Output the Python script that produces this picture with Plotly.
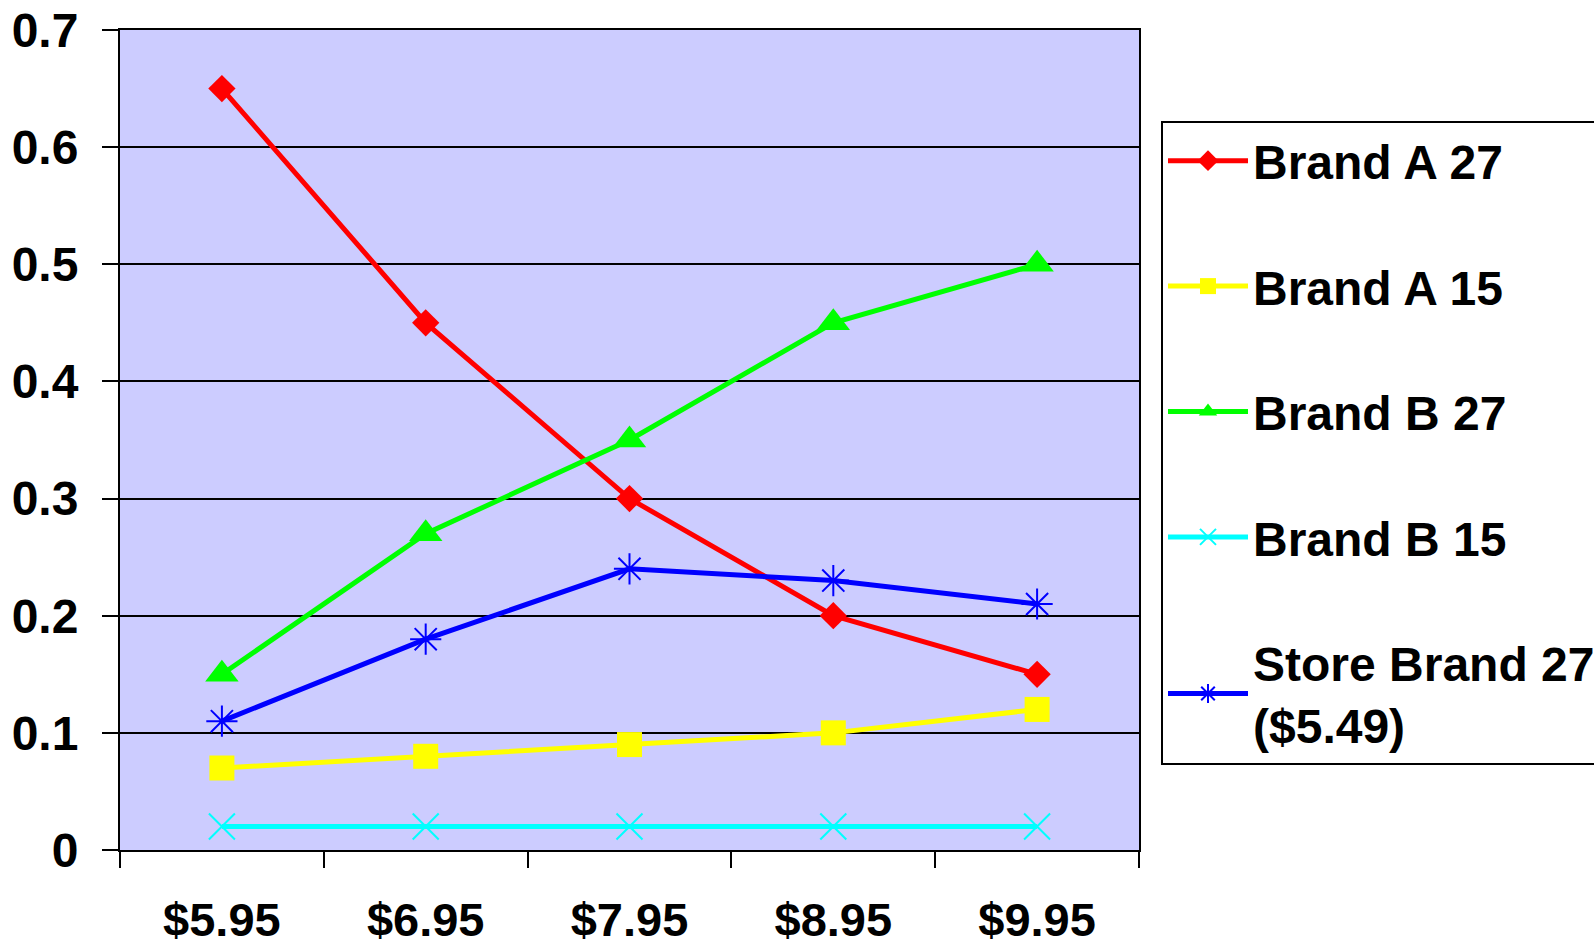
import plotly.graph_objects as go

# Price points along the category axis
prices = ["$5.95", "$6.95", "$7.95", "$8.95", "$9.95"]

# Share values for each product
brand_a_27 = [0.65, 0.45, 0.30, 0.20, 0.15]
brand_a_15 = [0.07, 0.08, 0.09, 0.10, 0.12]
brand_b_27 = [0.15, 0.27, 0.35, 0.45, 0.50]
brand_b_15 = [0.02, 0.02, 0.02, 0.02, 0.02]
store_brand_27 = [0.11, 0.18, 0.24, 0.23, 0.21]

y_ticks = [0, 0.1, 0.2, 0.3, 0.4, 0.5, 0.6, 0.7]
y_tick_labels = ["0", "0.1", "0.2", "0.3", "0.4", "0.5", "0.6", "0.7"]

FONT = "Arial, Liberation Sans, sans-serif"
FS = 48

series = [
    ("Brand A 27", brand_a_27, "#FF0000", "diamond", 21, 0),
    ("Brand A 15", brand_a_15, "#FFFF00", "square", 25, 0),
    ("Brand B 27", brand_b_27, "#00FF00", "triangle-up", 29, 0),
    ("Brand B 15", brand_b_15, "#00FFFF", "x-thin-open", 26, 2),
    ("Store Brand 27<br>($5.49)", store_brand_27, "#0000FF", "asterisk-open", 26, 2),
]

fig = go.Figure()
for i, (name, vals, color, symbol, size, lw) in enumerate(series):
    fig.add_trace(go.Scatter(
        x=prices, y=vals, name=name, mode="lines+markers",
        legendgroup=f"g{i}",
        line=dict(color=color, width=5),
        marker=dict(symbol=symbol, size=size, color=color,
                    line=dict(color=color, width=lw)),
    ))

fig.update_layout(
    width=1594, height=946,
    margin=dict(l=120, r=455, t=30, b=96),
    paper_bgcolor="white",
    plot_bgcolor="#CCCCFF",
    font=dict(family=FONT, size=FS, color="black", weight="bold"),
    showlegend=True,
    legend=dict(
        xref="container", yref="container",
        x=1161 / 1594, y=(946 - 121) / 946, xanchor="left", yanchor="top",
        bgcolor="white", bordercolor="black", borderwidth=2,
        font=dict(family=FONT, size=FS, color="black", weight="bold"),
        tracegroupgap=60, itemwidth=80, maxheight=800,
    ),
)

fig.update_xaxes(
    type="category", range=[-0.5, 4.5], automargin=False,
    showline=True, linecolor="black", linewidth=2, mirror=True,
    ticks="outside", ticklen=16, tickwidth=2, tickcolor="black",
    tickson="boundaries", showgrid=False,
    ticklabelstandoff=28,
    tickfont=dict(family=FONT, size=47, color="black", weight="bold"),
)
fig.update_yaxes(
    range=[0, 0.7], tickvals=y_ticks, ticktext=y_tick_labels, automargin=False,
    showline=True, linecolor="black", linewidth=2, mirror=True,
    ticks="outside", ticklen=16, tickwidth=2, tickcolor="black",
    showgrid=True, gridcolor="black", gridwidth=1.5,
    zeroline=False, ticklabelstandoff=14,
    tickfont=dict(family=FONT, size=FS, color="black", weight="bold"),
)

fig.write_html("out.html")
